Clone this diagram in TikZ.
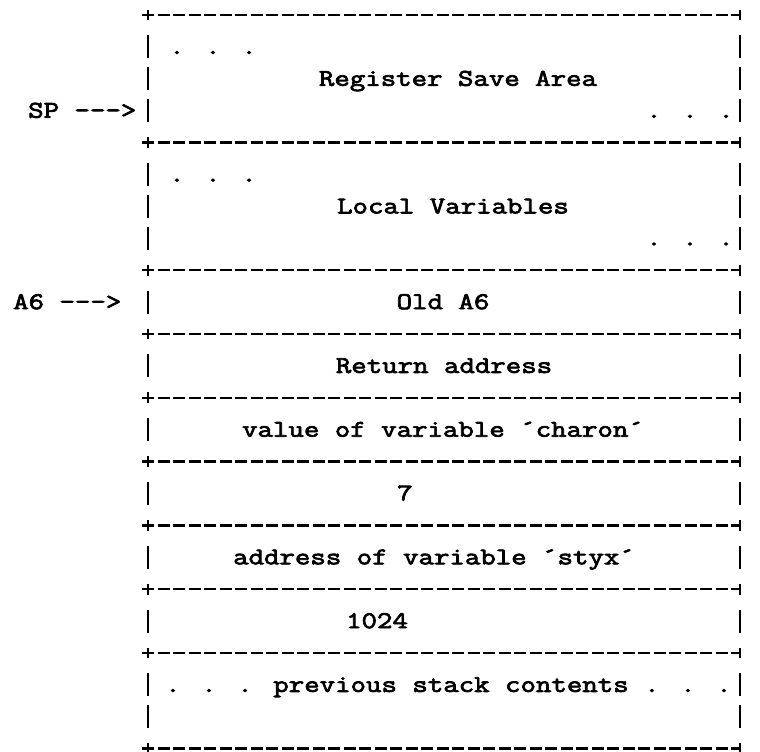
\documentclass[tikz,border=0pt]{standalone}
\usepackage{fontspec}
\usepackage{tikz}
\newfontfamily\typer{Latin Modern Mono}[FakeStretch=1.25, FakeBold=3]
\tikzset{
  typed/.style={font=\typer\fontsize{24}{24}\selectfont, inner sep=0pt, anchor=base},
  rule/.style={line width=2.4pt, dash pattern=on 12pt off 3.5pt},
  bar/.style={line width=2.6pt}
}

\begin{document}
\begin{tikzpicture}[x=1pt, y=-31.9pt]
\useasboundingbox (0,-0.47) rectangle (760,23.1);

% rows of the frame
\foreach \r in {0,4,8,10,12,14,16,18,20,23}
         {
           \draw[rule] (142,\r) -- (740,\r);
           \draw[bar] (148,\r-0.17) -- (148,\r+0.17);
           \draw[bar] (740,\r-0.17) -- (740,\r+0.17);
         }
\foreach \r in {1,2,3,5,6,7,9,11,13,15,17,19,21,22}
         {
           \draw[bar] (148,\r-0.36) -- (148,\r+0.36);
           \draw[bar] (740,\r-0.36) -- (740,\r+0.36);
         }

\node[typed,anchor=base west] (sp) at (28,3.22) {SP --->};
\node[typed,anchor=base west] (a6) at (13,9.22) {A6 --->};

\node[typed] (dotsa) at (213,1.22) {. . .};
\node[typed] (regsave) at (458,2.22) {Register Save Area};
\node[typed] (dotsb) at (690,3.22) {. . .};

\node[typed] (dotsc) at (213,5.22) {. . .};
\node[typed] (locals) at (453,6.22) {Local Variables};
\node[typed] (dotsd) at (690,7.22) {. . .};

\node[typed] (olda6) at (443,9.22) {Old A6};
\node[typed] (retaddr) at (444,11.22) {Return address};
\node[typed] (charon) at (443,13.22) {value of variable ´charon´};
\node[typed] (seven) at (405,15.22) {7};
\node[typed] (styx) at (434,17.22) {address of variable ´styx´};
\node[typed] (k1024) at (377,19.22) {1024};
\node[typed,anchor=base west] (prev) at (165,21.22) {. . . previous stack contents . . .};

\end{tikzpicture}
\end{document}
